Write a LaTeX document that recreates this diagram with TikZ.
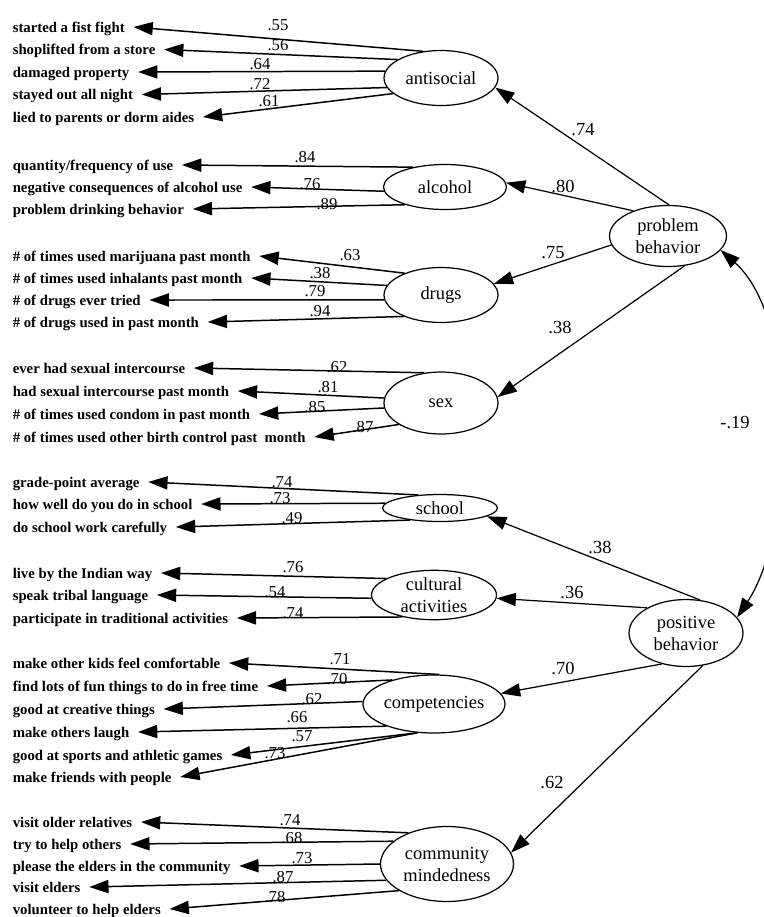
\documentclass[tikz,border=0pt]{standalone}
\usepackage{fontspec}
\setmainfont{Liberation Serif}
\usepackage{tikz}
\usetikzlibrary{shapes.geometric, arrows.meta}
\tikzset{
  latent/.style={ellipse, draw, line width=0.7pt, inner sep=0pt, align=center, font=\fontsize{10.5}{12.5}\selectfont},
  item/.style={anchor=west, inner sep=0pt, outer xsep=5pt, text height=1.5ex, text depth=.25ex, font=\fontsize{8.4}{10}\selectfont\bfseries},
  load/.style={inner sep=0pt, font=\fontsize{9.5}{10}\selectfont},
  coef/.style={inner sep=0pt, font=\fontsize{10.5}{12}\selectfont},
  ind/.style={-{Triangle[length=11pt, width=7.5pt]}, line width=0.85pt},
  struct/.style={-{Triangle[length=11pt, width=7.5pt]}, line width=0.7pt}
}

\begin{document}
\begin{tikzpicture}[x=0.02cm, y=-0.02cm]
    \useasboundingbox (0,0) rectangle (764,917);

    \node[latent, minimum width=2.28cm, minimum height=1.1cm] (anti) at (441,78) {antisocial};
    \node[latent, minimum width=2.46cm, minimum height=0.9cm] (alc) at (445,187) {alcohol};
    \node[latent, minimum width=2.28cm, minimum height=1.1cm] (drug) at (441,295) {drugs};
    \node[latent, minimum width=2.28cm, minimum height=1.24cm] (sex) at (441,403) {sex};
    \node[latent, minimum width=2.3cm, minimum height=0.54cm] (school) at (440,508) {school};
    \node[latent, minimum width=2.5cm, minimum height=0.92cm] (cult) at (434,595) {cultural\\activities};
    \node[latent, minimum width=2.82cm, minimum height=1.16cm] (comp) at (434,704) {competencies};
    \node[latent, minimum width=2.66cm, minimum height=1.5cm] (comm) at (447,864) {community\\mindedness};
    \node[latent, minimum width=2.34cm, minimum height=1.22cm] (prob) at (668,236) {problem\\behavior};
    \node[latent, minimum width=2.28cm, minimum height=1.34cm] (pos) at (686,633) {positive\\behavior};

    \draw[struct] (prob.88) -- (anti.350);
    \draw[struct] (prob.144) -- (alc.4);
    \draw[struct] (prob.189) -- (drug.12);
    \draw[struct] (prob.299) -- (sex.6);
    \draw[struct] (pos.67) -- (school.350);
    \draw[struct] (pos.147) -- (cult.357);
    \draw[struct] (pos.232) -- (comp.9);
    \draw[struct] (pos.297) -- (comm.10);
    \draw[struct, {Triangle[length=11pt, width=7.5pt]}-{Triangle[length=11pt, width=7.5pt]}]
        (prob.345) .. controls (800,320) and (795,530) .. (pos.17);
    \node[coef] (c1) at (583,130) {.74};
    \node[coef] (c2) at (563,186) {.80};
    \node[coef] (c3) at (553,253) {.75};
    \node[coef] (c4) at (560,327) {.38};
    \node[coef] (c5) at (600,547) {.38};
    \node[coef] (c6) at (572,593) {.36};
    \node[coef] (c7) at (563,668) {.70};
    \node[coef] (c8) at (552,783) {.62};
    \node[coef] (c9) at (735,423) {-.19};

    \node[item] (as1) at (4,27) {started a fist fight};
    \node[item] (as2) at (4,49.5) {shoplifted from a store};
    \node[item] (as3) at (4,72) {damaged property};
    \node[item] (as4) at (4,94.5) {stayed out all night};
    \node[item] (as5) at (4,117) {lied to parents or dorm aides};
    \draw[ind] (anti.124) -- (as1.east);
    \draw[ind] (anti.157) -- (as2.east);
    \draw[ind] (anti.173) -- (as3.east);
    \draw[ind] (anti.190) -- (as4.east);
    \draw[ind] (anti.198) -- (as5.east);
    \node[load] (as1v) at (278,25) {.55};
    \node[load] (as2v) at (278,45) {.56};
    \node[load] (as3v) at (260,64) {.64};
    \node[load] (as4v) at (260,84) {.72};
    \node[load] (as5v) at (269,101) {.61};

    \node[item] (al1) at (4,165) {quantity/frequency of use};
    \node[item] (al2) at (4,187) {negative consequences of alcohol use};
    \node[item] (al3) at (4,209) {problem drinking behavior};
    \draw[ind] (alc.148) -- (al1.east);
    \draw[ind] (alc.184) -- (al2.east);
    \draw[ind] (alc.204) -- (al3.east);
    \node[load] (al1v) at (305,157) {.84};
    \node[load] (al2v) at (310,184) {.76};
    \node[load] (al3v) at (327,204) {.89};

    \node[item] (dr1) at (4,256) {\# of times used marijuana past month};
    \node[item] (dr2) at (4,278) {\# of times used inhalants past month};
    \node[item] (dr3) at (4,300) {\# of drugs ever tried};
    \node[item] (dr4) at (4,322) {\# of drugs used in past month};
    \draw[ind] (drug.149) -- (dr1.east);
    \draw[ind] (drug.170) -- (dr2.east);
    \draw[ind] (drug.185) -- (dr3.east);
    \draw[ind] (drug.210) -- (dr4.east);
    \node[load] (dr1v) at (350,255) {.63};
    \node[load] (dr2v) at (320,273) {.38};
    \node[load] (dr3v) at (315,291) {.79};
    \node[load] (dr4v) at (320,311) {.94};

    \node[item] (sx1) at (4,368) {ever had sexual intercourse};
    \node[item] (sx2) at (4,391) {had sexual intercourse past month};
    \node[item] (sx3) at (4,414) {\# of times used condom in past month};
    \node[item] (sx4) at (4,437) {\# of times used other birth control past\ \ month};
    \draw[ind] (sex.119) -- (sx1.east);
    \draw[ind] (sex.175) -- (sx2.east);
    \draw[ind] (sex.185) -- (sx3.east);
    \draw[ind] (sex.207) -- (sx4.east);
    \node[load] (sx1v) at (337,367) {.62};
    \node[load] (sx2v) at (328,387) {.81};
    \node[load] (sx3v) at (315,407) {.85};
    \node[load] (sx4v) at (363,427) {.87};

    \node[item] (sc1) at (4,482) {grade-point average};
    \node[item] (sc2) at (4,504) {how well do you do in school};
    \node[item] (sc3) at (4,527) {do school work carefully};
    \draw[ind] (school.149) -- (sc1.east);
    \draw[ind] (school.175) -- (sc2.east);
    \draw[ind] (school.202) -- (sc3.east);
    \node[load] (sc1v) at (282,482) {.74};
    \node[load] (sc2v) at (280,498) {.73};
    \node[load] (sc3v) at (292,518) {.49};

    \node[item] (cu1) at (4,573) {live by the Indian way};
    \node[item] (cu2) at (4,595) {speak tribal language};
    \node[item] (cu3) at (4,618) {participate in traditional activities};
    \draw[ind] (cult.161) -- (cu1.east);
    \draw[ind] (cult.183) -- (cu2.east);
    \draw[ind] (cult.215) -- (cu3.east);
    \node[load] (cu1v) at (293,567) {.76};
    \node[load] (cu2v) at (275,592) {.54};
    \node[load] (cu3v) at (293,613) {.74};

    \node[item] (co1) at (4,663) {make other kids feel comfortable};
    \node[item] (co2) at (4,686) {find lots of fun things to do in free time};
    \node[item] (co3) at (4,709) {good at creative things};
    \node[item] (co4) at (4,732) {make others laugh};
    \node[item] (co5) at (4,755) {good at sports and athletic games};
    \node[item] (co6) at (4,777) {make friends with people};
    \draw[ind] (comp.80) -- (co1.east);
    \draw[ind] (comp.150) -- (co2.east);
    \draw[ind] (comp.178) -- (co3.east);
    \draw[ind] (comp.205) -- (co4.east);
    \draw[ind] (comp.240) -- (co5.east);
    \draw[ind] (comp.240) -- (co6.east);
    \node[load] (co1v) at (340,659) {.71};
    \node[load] (co2v) at (337,679) {.70};
    \node[load] (co3v) at (312,699) {.62};
    \node[load] (co4v) at (297,717) {.66};
    \node[load] (co5v) at (302,736) {.57};
    \node[load] (co6v) at (275,753) {.73};

    \node[item] (cm1) at (4,822) {visit older relatives};
    \node[item] (cm2) at (4,844) {try to help others};
    \node[item] (cm3) at (4,866) {please the elders in the community};
    \node[item] (cm4) at (4,887) {visit elders};
    \node[item] (cm5) at (4,909) {volunteer to help elders};
    \draw[ind] (comm.141) -- (cm1.east);
    \draw[ind] (comm.157) -- (cm2.east);
    \draw[ind] (comm.180) -- (cm3.east);
    \draw[ind] (comm.195) -- (cm4.east);
    \draw[ind] (comm.209) -- (cm5.east);
    \node[load] (cm1v) at (290,820) {.74};
    \node[load] (cm2v) at (292,838) {.68};
    \node[load] (cm3v) at (302,858) {.73};
    \node[load] (cm4v) at (283,877) {.87};
    \node[load] (cm5v) at (275,897) {.78};
\end{tikzpicture}
\end{document}
